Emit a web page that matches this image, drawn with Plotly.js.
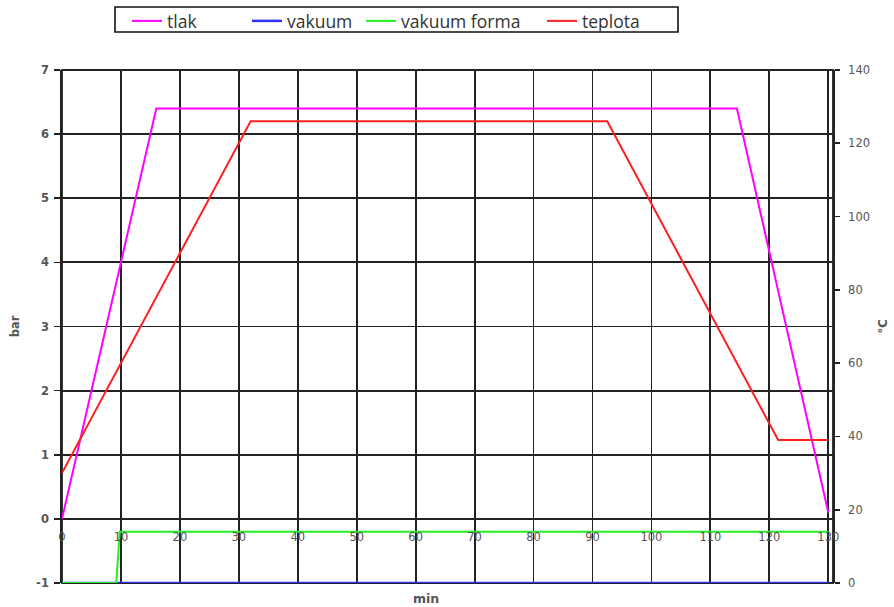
<!DOCTYPE html>
<html>
<head>
<meta charset="utf-8">
<script src="https://cdn.plot.ly/plotly-3.0.1.min.js"></script>
<style>html,body{margin:0;padding:0;background:#fff;}#chart{width:894px;height:607px;}</style>
</head>
<body>
<div id="chart"></div>
<script>
// Data
const timeTlak = [0, 16, 114.5, 130];
const tlak = [0, 6.4, 6.4, 0.1];            // bar
const timeVakuum = [0, 130];
const vakuum = [-1, -1];                    // bar
const timeForma = [0, 9.2, 9.8, 130];
const vakuumForma = [-1, -1, -0.2, -0.2];   // bar
const timeTeplota = [0, 32, 92.5, 121.5, 130];
const teplota = [30, 126, 126, 39, 39];     // °C
const xTicks = [0,10,20,30,40,50,60,70,80,90,100,110,120,130];
const yTicks = [-1,0,1,2,3,4,5,6,7];
const y2Ticks = [0,20,40,60,80,100,120,140];

const W = 894, H = 607;
const mL = 62, mR = 61, mT = 70, mB = 24;
const pw = W - mL - mR, ph = H - mT - mB;
const px2x = p => (p - mL) / pw;
const py2y = p => (H - mB - p) / ph;

const FAM = 'DejaVu Sans, Verdana, sans-serif';
const font = {family: FAM, size: 11.5, color: '#555'};
const boldFont = {family: FAM, size: 11.5, color: '#555', weight: 'bold'};
const legFont = {family: 'Open Sans, Liberation Sans, sans-serif', size: 17.5, color: '#333'};

const traces = [
  {x: timeTlak, y: tlak, name: 'tlak', mode: 'lines', line: {color: '#ff00ff', width: 2}, legend: 'legend'},
  {x: timeVakuum, y: vakuum, name: 'vakuum', mode: 'lines', line: {color: '#3030ff', width: 2.5}, legend: 'legend2'},
  {x: timeForma, y: vakuumForma, name: 'vakuum forma', mode: 'lines', line: {color: '#22ee22', width: 2}, legend: 'legend3'},
  {x: timeTeplota, y: teplota, name: 'teplota', mode: 'lines', line: {color: '#ff2020', width: 2}, yaxis: 'y2', legend: 'legend4'}
];

const legBase = (xp) => ({x: (xp - 5) / W, y: 1 - 21 / H, xref: 'container', yref: 'container',
  xanchor: 'left', yanchor: 'middle',
  orientation: 'h', bgcolor: 'rgba(0,0,0,0)', borderwidth: 0, font: legFont});

const layout = {
  width: W, height: H,
  margin: {l: mL, r: mR, t: mT, b: mB},
  paper_bgcolor: '#fff', plot_bgcolor: 'rgba(0,0,0,0)',
  font: font,
  showlegend: true,
  legend: legBase(132),
  legend2: legBase(252),
  legend3: legBase(366),
  legend4: legBase(547),
  xaxis: {
    range: [0, 130.8], tickvals: xTicks, ticktext: xTicks.map(String),
    anchor: 'free', position: 0.125,
    showgrid: true, gridcolor: '#222', gridwidth: 1.8,
    showline: false,
    ticks: '', ticklabelstandoff: 10, zeroline: false, tickfont: font, fixedrange: true
  },
  yaxis: {
    range: [-1, 7], tickvals: yTicks, ticktext: yTicks.map(String),
    domain: [0, 1],
    showgrid: true, gridcolor: '#222', gridwidth: 1.8,
    showline: true, linecolor: '#222', linewidth: 1.8,
    ticks: 'outside', ticklen: 6, tickcolor: '#222', tickwidth: 1.6,
    ticklabelstandoff: 3,
    zeroline: false, tickfont: boldFont,
    title: {text: 'bar', font: boldFont, standoff: 14}
  },
  yaxis2: {
    range: [0, 140], tickvals: y2Ticks, ticktext: y2Ticks.map(String),
    overlaying: 'y', side: 'right', showgrid: false, zeroline: false,
    showline: true, linecolor: '#222', linewidth: 1.8,
    ticks: 'outside', ticklen: 5, tickcolor: '#222', tickwidth: 1.6,
    ticklabelstandoff: 6,
    tickfont: font,
    title: {text: '°C', font: boldFont, standoff: 10}
  },
  shapes: [
    {type: 'rect', xref: 'paper', yref: 'paper', x0: 0, x1: 1, y0: 0, y1: 1,
     line: {color: '#222', width: 1.8}, fillcolor: 'rgba(0,0,0,0)', layer: 'below'},
    {type: 'rect', xref: 'paper', yref: 'paper', x0: px2x(115), x1: px2x(678), y0: py2y(32), y1: py2y(7),
     line: {color: '#111', width: 1.6}, fillcolor: 'rgba(0,0,0,0)'}
  ],
  annotations: [
    {text: 'min', xref: 'paper', yref: 'paper', x: px2x(426), y: py2y(598), showarrow: false,
     xanchor: 'center', yanchor: 'middle', font: {family: FAM, size: 12.5, color: '#555', weight: 'bold'}}
  ]
};

Plotly.newPlot('chart', traces, layout, {staticPlot: true, displayModeBar: false});
</script>
</body>
</html>
